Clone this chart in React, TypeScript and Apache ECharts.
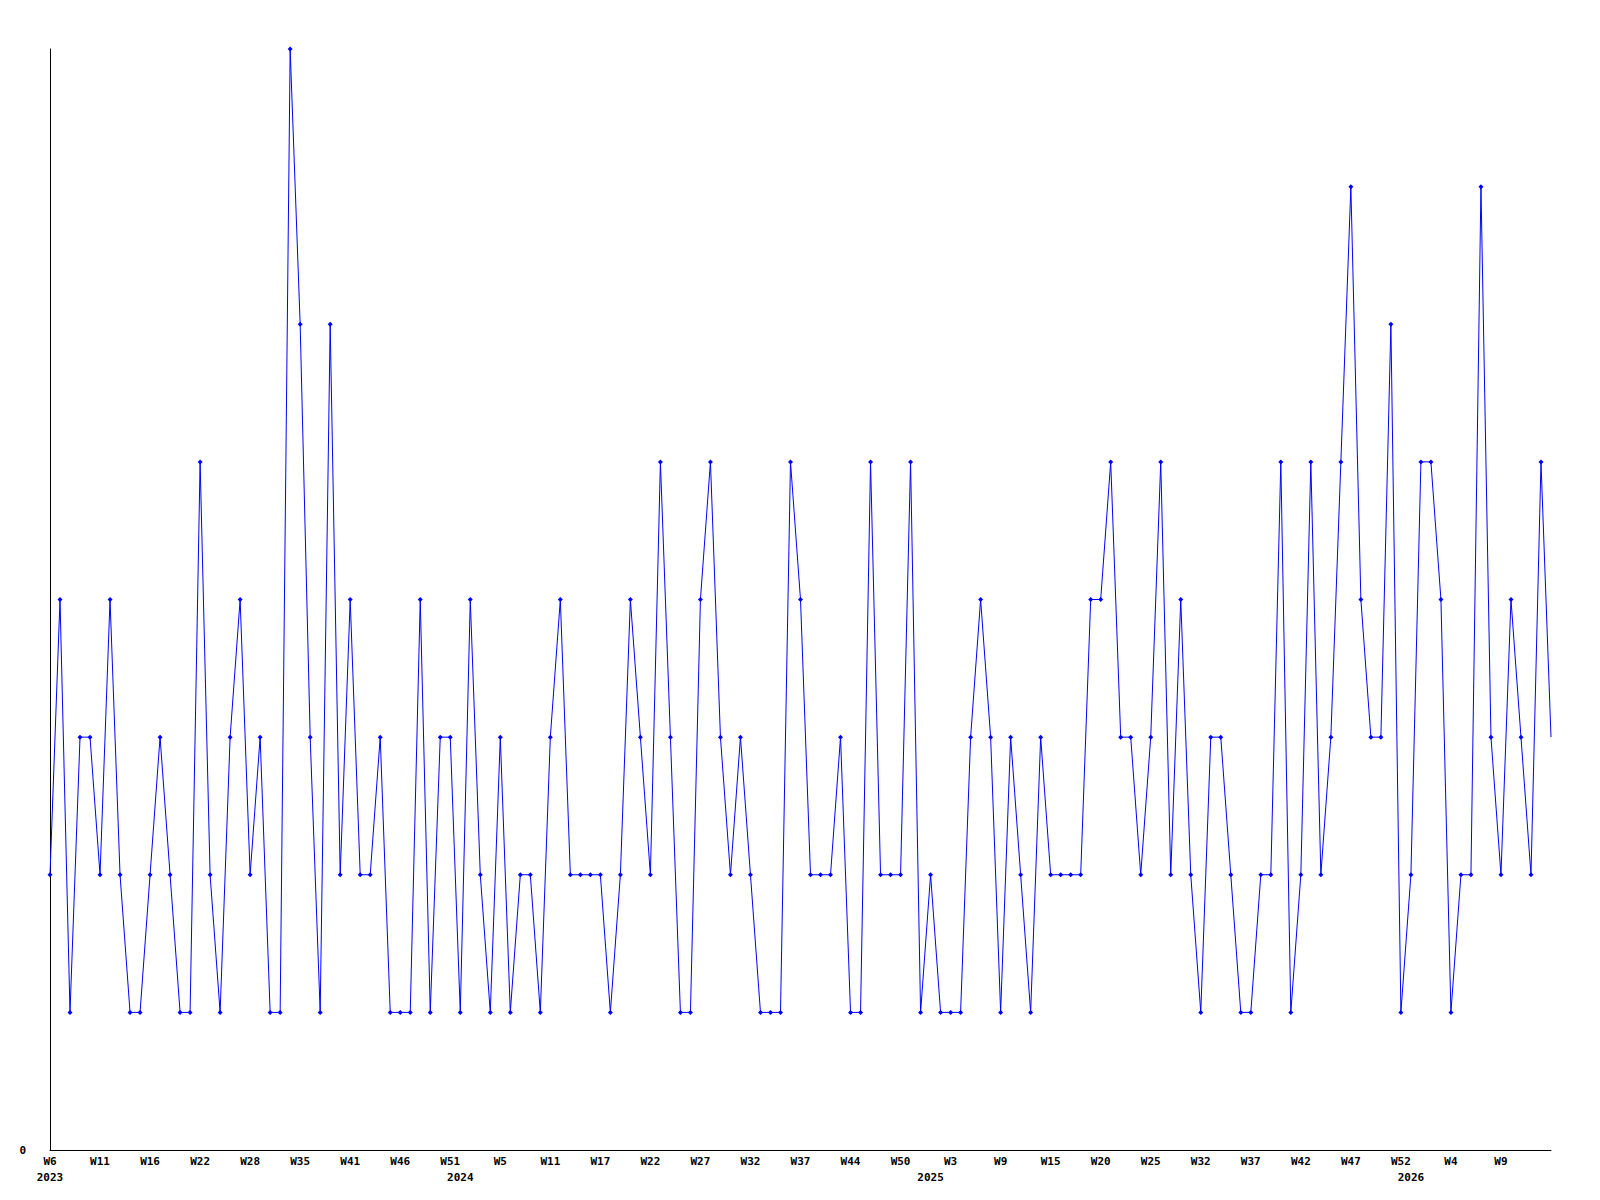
import React, { useEffect, useRef } from "react";
import * as echarts from "echarts";

// Weekly values (one per sample point)
const values: number[] = [
  2, 4, 1, 3, 3, 2, 4, 2, 1, 1,
  2, 3, 2, 1, 1, 5, 2, 1, 3, 4,
  2, 3, 1, 1, 8, 6, 3, 1, 6, 2,
  4, 2, 2, 3, 1, 1, 1, 4, 1, 3,
  3, 1, 4, 2, 1, 3, 1, 2, 2, 1,
  3, 4, 2, 2, 2, 2, 1, 2, 4, 3,
  2, 5, 3, 1, 1, 4, 5, 3, 2, 3,
  2, 1, 1, 1, 5, 4, 2, 2, 2, 3,
  1, 1, 5, 2, 2, 2, 5, 1, 2, 1,
  1, 1, 3, 4, 3, 1, 3, 2, 1, 3,
  2, 2, 2, 2, 4, 4, 5, 3, 3, 2,
  3, 5, 2, 4, 2, 1, 3, 3, 2, 1,
  1, 2, 2, 5, 1, 2, 5, 2, 3, 5,
  7, 4, 3, 3, 6, 1, 2, 5, 5, 4,
  1, 2, 2, 7, 3, 2, 4, 3, 2, 5,
  3,
];

// Week tick labels, one every 5 samples
const weekLabels: string[] = [
  "W6", "W11", "W16", "W22", "W28", "W35", "W41", "W46", "W51", "W5",
  "W11", "W17", "W22", "W27", "W32", "W37", "W44", "W50", "W3", "W9",
  "W15", "W20", "W25", "W32", "W37", "W42", "W47", "W52", "W4", "W9",
];

// Year labels and the sample index where each year starts
const yearNames: string[] = ["2023", "2024", "2025", "2026"];
const yearStartIndex: number[] = [0, 41, 88, 136];

const LABEL_STEP = 5;

export default function App() {
  const ref = useRef<HTMLDivElement>(null);

  useEffect(() => {
    if (!ref.current) return;
    const chart = echarts.init(ref.current, null, { renderer: "svg" });
    const categories = values.map((_, i) => String(i));
    const font = {
      fontFamily: "DejaVu Sans Mono",
      fontWeight: "bold" as const,
      fontSize: 11,
      color: "#000",
    };
    const data = values.map((v, i) =>
      i === values.length - 1 ? { value: v, symbol: "none" } : v
    );

    chart.setOption({
      animation: false,
      backgroundColor: "#fff",
      grid: { left: 50, right: 49, top: 49, bottom: 50, containLabel: false },
      xAxis: [
        {
          type: "category",
          data: categories,
          boundaryGap: false,
          axisLine: { show: true, lineStyle: { color: "#000", width: 1 } },
          axisTick: { show: false },
          splitLine: { show: false },
          axisLabel: {
            ...font,
            interval: LABEL_STEP - 1,
            margin: 6,
            formatter: (_v: string, idx: number) =>
              idx % LABEL_STEP === 0 ? weekLabels[idx / LABEL_STEP] ?? "" : "",
          },
        },
        {
          type: "category",
          data: categories,
          boundaryGap: false,
          position: "bottom",
          offset: 16,
          axisLine: { show: false },
          axisTick: { show: false },
          splitLine: { show: false },
          axisLabel: {
            ...font,
            interval: 0,
            margin: 6,
            formatter: (_v: string, idx: number) => {
              const k = yearStartIndex.indexOf(idx);
              return k >= 0 ? yearNames[k] : "";
            },
          },
        },
      ],
      yAxis: {
        type: "value",
        min: 0,
        max: 8,
        interval: 8,
        axisLine: { show: true, lineStyle: { color: "#000", width: 1 } },
        axisTick: { show: false },
        splitLine: { show: false },
        axisLabel: {
          ...font,
          margin: 24,
          formatter: (v: number) => (v === 0 ? "0" : ""),
        },
      },
      series: [
        {
          type: "line",
          xAxisIndex: 0,
          data,
          symbol: "diamond",
          symbolSize: 5,
          showAllSymbol: true,
          lineStyle: { color: "#0000ff", width: 1 },
          itemStyle: { color: "#0000ff" },
        },
      ],
    });

    return () => chart.dispose();
  }, []);

  return (
    <div
      ref={ref}
      style={{ position: "fixed", left: 0, top: 0, width: 1600, height: 1200, background: "#fff" }}
    />
  );
}
